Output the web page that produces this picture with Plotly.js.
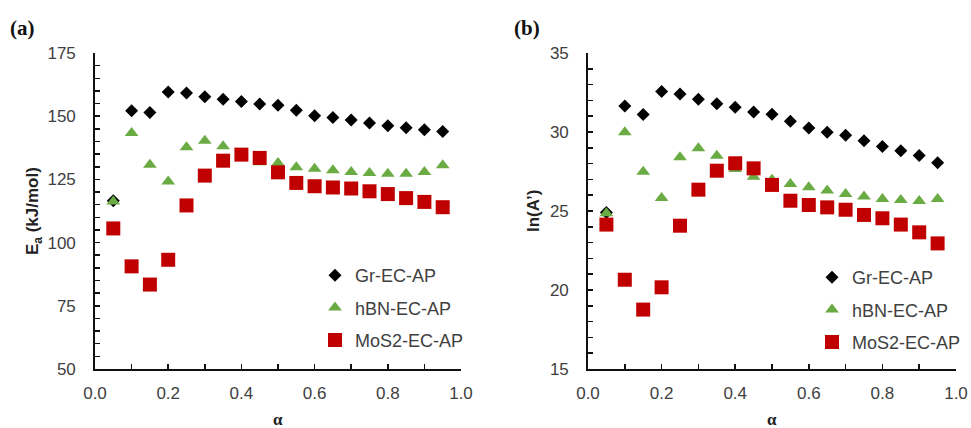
<!DOCTYPE html>
<html>
<head>
<meta charset="utf-8">
<script src="https://cdn.plot.ly/plotly-3.0.1.min.js"></script>
<style>html,body{margin:0;padding:0;background:#fff;}#chart{width:971px;height:428px;}</style>
</head>
<body>
<div id="chart"></div>
<script>
// Conversion fraction alpha
const alpha = [0.05,0.10,0.15,0.20,0.25,0.30,0.35,0.40,0.45,0.50,0.55,0.60,0.65,0.70,0.75,0.80,0.85,0.90,0.95];

// (a) Activation energy Ea (kJ/mol)
const eaGr   = [116.6,152.2,151.5,159.6,159.2,157.7,156.7,155.8,154.8,154.3,152.4,150.2,149.5,148.5,147.3,146.2,145.4,144.6,143.9];
const eaHBN  = [116.3,143.4,130.8,124.2,137.7,140.3,138.1,134.5,131.8,131.5,129.8,129.2,128.6,127.9,127.5,127.2,127.2,127.9,130.6];
const eaMoS2 = [105.6,90.6,83.4,93.2,114.7,126.5,132.4,134.8,133.5,127.8,123.6,122.3,121.8,121.4,120.3,119.2,117.6,116.1,114.0];

// (b) ln(A')
const lnGr   = [24.9,31.65,31.1,32.57,32.4,32.07,31.79,31.56,31.27,31.12,30.68,30.25,29.98,29.79,29.45,29.09,28.82,28.52,28.06];
const lnHBN  = [24.85,29.98,27.49,25.82,28.4,28.97,28.5,27.66,27.17,26.98,26.71,26.5,26.29,26.08,25.91,25.76,25.7,25.63,25.76];
const lnMoS2 = [24.14,20.65,18.76,20.17,24.07,26.35,27.55,28.02,27.7,26.65,25.65,25.38,25.23,25.08,24.75,24.54,24.14,23.65,22.95];

const seriesNames = ['Gr-EC-AP','hBN-EC-AP','MoS2-EC-AP'];

const styles = [
  {symbol:'diamond', size:10, color:'#000000'},
  {symbol:'triangle-up', size:12, color:'#6aab44'},
  {symbol:'square', size:14, color:'#c00000'}
];

function mk(x, y, i, xa, ya, leg) {
  return {
    x: x, y: y, type:'scatter', mode:'markers',
    name: seriesNames[i], xaxis: xa, yaxis: ya, legend: leg,
    legendgroup: leg + i,
    marker: {symbol: styles[i].symbol, size: styles[i].size, color: styles[i].color, line:{width:0}},
    hoverinfo:'x+y'
  };
}

const data = [
  mk(alpha, eaGr, 0, 'x', 'y', 'legend'),
  mk(alpha, eaHBN, 1, 'x', 'y', 'legend'),
  mk(alpha, eaMoS2, 2, 'x', 'y', 'legend'),
  mk(alpha, lnGr, 0, 'x2', 'y2', 'legend2'),
  mk(alpha, lnHBN, 1, 'x2', 'y2', 'legend2'),
  mk(alpha, lnMoS2, 2, 'x2', 'y2', 'legend2')
];

const W = 971, H = 428;
const tickFont = {family:'Liberation Sans, Arial, sans-serif', size:17, color:'#404040'};
const yDom = [1 - 369/H, 1 - 53/H];

function xAxis(dom, anchor) {
  return {
    domain: dom, anchor: anchor, range:[0,1], autorange:false,
    tickvals:[0,0.2,0.4,0.6,0.8,1.0], ticktext:['0.0','0.2','0.4','0.6','0.8','1.0'],
    ticks:'inside', ticklen:5, tickwidth:1.5, tickcolor:'#111',
    minor:{dtick:0.1, tick0:0, ticks:'inside', ticklen:5, tickwidth:1.5, tickcolor:'#111'},
    showline:true, linecolor:'#111', linewidth:1.8, showgrid:false, zeroline:false,
    tickfont: tickFont, ticklabelstandoff: 8
  };
}
function yAxis(range, dtick, minorDtick, anchor) {
  return {
    domain: yDom, anchor: anchor, range: range, autorange:false, dtick: dtick, tick0: range[0],
    ticks:'inside', ticklen:5, tickwidth:1.5, tickcolor:'#111',
    minor:{dtick:minorDtick, tick0: range[0], ticks:'inside', ticklen:5, tickwidth:1.5, tickcolor:'#111'},
    showline:true, linecolor:'#111', linewidth:1.8, showgrid:false, zeroline:false,
    tickfont: tickFont, ticklabelstandoff: 14
  };
}

const legFont = {family:'Liberation Sans, Arial, sans-serif', size:18, color:'#404040'};

const layout = {
  width: W, height: H,
  margin:{l:0,r:0,t:0,b:0},
  paper_bgcolor:'#fff', plot_bgcolor:'rgba(0,0,0,0)',
  showlegend:true,
  xaxis: xAxis([95/W, 461/W], 'y'),
  yaxis: yAxis([50,175], 25, 5, 'x'),
  xaxis2: xAxis([588/W, 956/W], 'y2'),
  yaxis2: yAxis([15,35], 5, 1, 'x2'),
  legend: {x: 315/W, y: 1 - 257/H, xanchor:'left', yanchor:'top', font: legFont,
           bgcolor:'rgba(0,0,0,0)', tracegroupgap: 6, itemclick:false},
  legend2: {x: 812/W, y: 1 - 259/H, xanchor:'left', yanchor:'top', font: legFont,
           bgcolor:'rgba(0,0,0,0)', tracegroupgap: 6, itemclick:false},
  annotations: [
    {text:'<b>(a)</b>', xref:'paper', yref:'paper', x:22/W, y:1-28/H, xanchor:'center', yanchor:'middle', showarrow:false,
     font:{family:'Liberation Serif, Times New Roman, serif', size:21, color:'#111'}},
    {text:'<b>(b)</b>', xref:'paper', yref:'paper', x:527/W, y:1-28/H, xanchor:'center', yanchor:'middle', showarrow:false,
     font:{family:'Liberation Serif, Times New Roman, serif', size:21, color:'#111'}},
    {text:'<b>E<sub>a</sub> (kJ/mol)</b>', xref:'paper', yref:'paper', x:34/W, y:1-211/H, xanchor:'center', yanchor:'middle', textangle:-90, showarrow:false,
     font:{family:'Liberation Sans, Arial, sans-serif', size:17, color:'#222'}},
    {text:'<b>ln(A\u2019)</b>', xref:'paper', yref:'paper', x:533/W, y:1-211/H, xanchor:'center', yanchor:'middle', textangle:-90, showarrow:false,
     font:{family:'Liberation Sans, Arial, sans-serif', size:17, color:'#222'}},
    {text:'<b>α</b>', xref:'paper', yref:'paper', x:278/W, y:1-419/H, xanchor:'center', yanchor:'middle', showarrow:false,
     font:{family:'Liberation Serif, Times New Roman, serif', size:17, color:'#222'}},
    {text:'<b>α</b>', xref:'paper', yref:'paper', x:772/W, y:1-419/H, xanchor:'center', yanchor:'middle', showarrow:false,
     font:{family:'Liberation Serif, Times New Roman, serif', size:17, color:'#222'}}
  ]
};

Plotly.newPlot('chart', data, layout, {displayModeBar:false, staticPlot:true});
</script>
</body>
</html>
